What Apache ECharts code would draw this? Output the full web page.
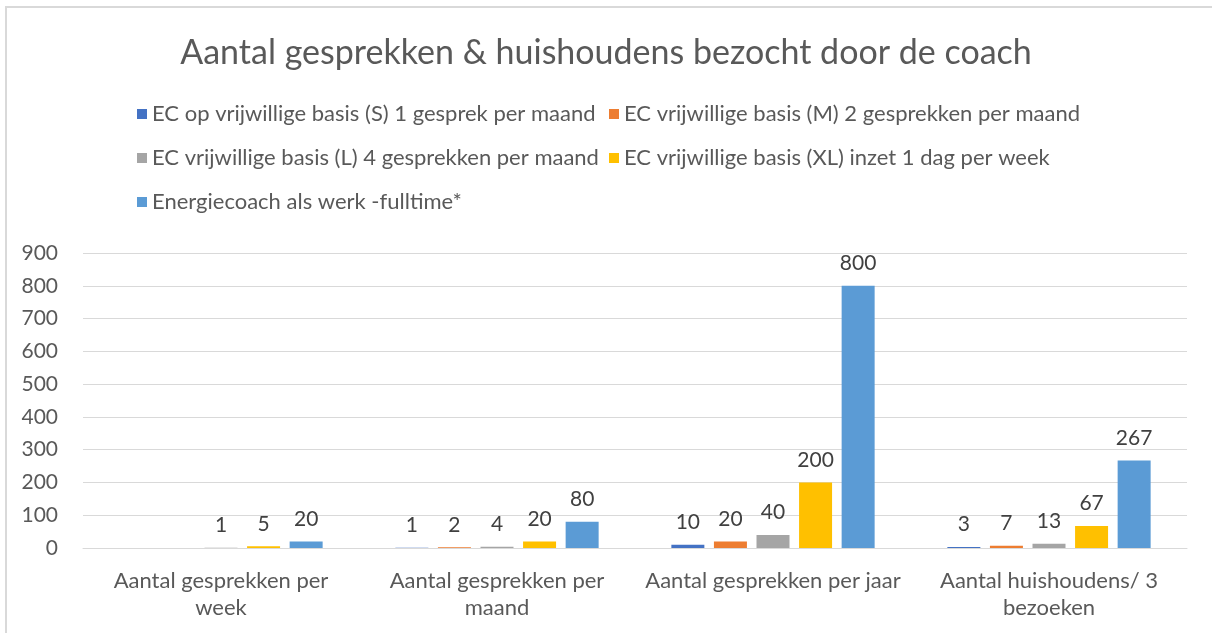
<!DOCTYPE html>
<html>
<head>
<meta charset="utf-8">
<script src="https://cdn.jsdelivr.net/npm/echarts@6/dist/echarts.min.js"></script>
<style>
    html, body { margin: 0; padding: 0; background: #fff; }
    #chart { width: 1212px; height: 633px; }
</style>
</head>
<body>
<div id="chart"></div>
<script>
const categories = [
    'Aantal gesprekken per\nweek',
    'Aantal gesprekken per\nmaand',
    'Aantal gesprekken per jaar',
    'Aantal huishoudens/ 3\nbezoeken'
];
const seriesNames = [
    'EC op vrijwillige basis (S) 1 gesprek per maand',
    'EC vrijwillige basis (M) 2 gesprekken per maand',
    'EC vrijwillige basis (L) 4 gesprekken per maand',
    'EC vrijwillige basis (XL) inzet 1 dag per week',
    'Energiecoach als werk -fulltime*'
];
const valuesS = [null, 1, 10, 3];
const valuesM = [null, 2, 20, 7];
const valuesL = [1, 4, 40, 13];
const valuesXL = [5, 20, 200, 67];
const valuesFulltime = [20, 80, 800, 267];
const yTicks = [0, 100, 200, 300, 400, 500, 600, 700, 800, 900];

const colors = ['#4472C4', '#ED7D31', '#A5A5A5', '#FFC000', '#5B9BD5'];
const allValues = [valuesS, valuesM, valuesL, valuesXL, valuesFulltime];
const font = 'Lato';

// legend positions (one legend per item, like the excel layout)
const legendPos = [
    { left: 137, top: 103 },
    { left: 609, top: 103 },
    { left: 137, top: 147 },
    { left: 609, top: 147 },
    { left: 137, top: 191 }
];

const option = {
    animation: false,
    color: colors,
    textStyle: { fontFamily: font },
    title: {
        text: 'Aantal gesprekken & huishoudens bezocht door de coach',
        left: 'center',
        top: 31,
        textStyle: { fontFamily: font, fontWeight: 'normal', fontSize: 34, color: '#595959' }
    },
    legend: seriesNames.map((n, i) => ({
        data: [n],
        left: legendPos[i].left,
        top: legendPos[i].top,
        padding: 0,
        icon: 'rect',
        itemWidth: 10,
        itemHeight: 10,
        textStyle: { fontFamily: font, fontSize: 22, color: '#595959' }
    })),
    graphic: [{
        type: 'rect',
        shape: { x: 6, y: 7, width: 1220, height: 640 },
        style: { fill: 'none', stroke: '#D9D9D9', lineWidth: 2 },
        silent: true
    }],
    grid: { left: 83, right: 25, top: 253, bottom: 85 },
    xAxis: {
        type: 'category',
        data: categories,
        axisLine: { lineStyle: { color: '#D9D9D9' } },
        axisTick: { show: false },
        axisLabel: {
            interval: 0,
            hideOverlap: false,
            fontFamily: font, fontSize: 22, color: '#595959', lineHeight: 27, margin: 19
        }
    },
    yAxis: {
        type: 'value',
        min: 0,
        max: 900,
        interval: 100,
        axisLabel: {
            fontFamily: font, fontSize: 21, color: '#595959', margin: 25,
            formatter: v => yTicks.includes(v) ? String(v) : ''
        },
        splitLine: { lineStyle: { color: '#D9D9D9', width: 1 } },
        axisLine: { show: false },
        axisTick: { show: false }
    },
    series: seriesNames.map((n, i) => ({
        name: n,
        type: 'bar',
        data: allValues[i],
        barWidth: 33,
        barGap: '29%',
        label: {
            show: true,
            position: 'top',
            distance: 12,
            fontFamily: font,
            fontSize: 21,
            color: '#404040'
        }
    }))
};

echarts.init(document.getElementById('chart')).setOption(option);
</script>
</body>
</html>
